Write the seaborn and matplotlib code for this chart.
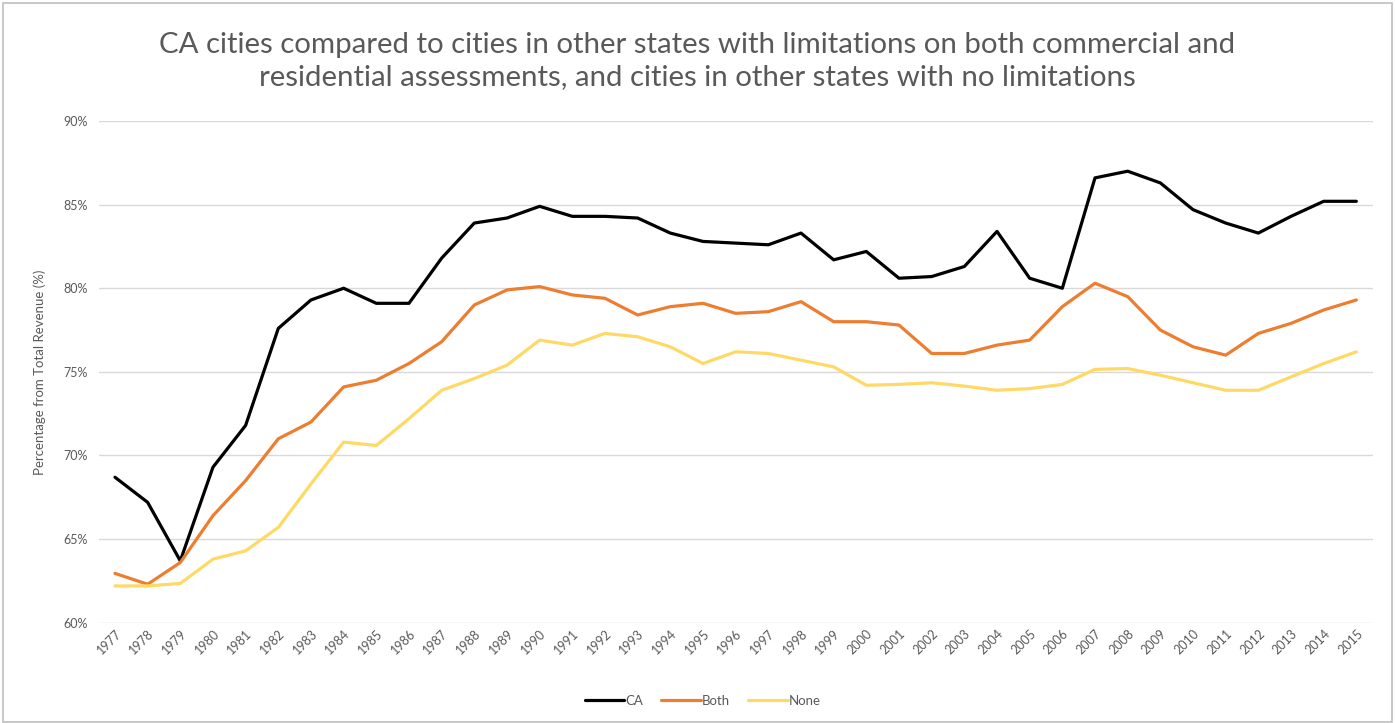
import numpy as np
import pandas as pd
import seaborn as sns
import matplotlib.pyplot as plt
from matplotlib.patches import Rectangle
from matplotlib.ticker import PercentFormatter

years = list(range(1977, 2016))

ca = [68.7, 67.2, 63.7, 69.3, 71.8, 77.6, 79.3, 80.0, 79.1, 79.1,
      81.8, 83.9, 84.2, 84.9, 84.3, 84.3, 84.2, 83.3, 82.8, 82.7,
      82.6, 83.3, 81.7, 82.2, 80.6, 80.7, 81.3, 83.4, 80.6, 80.0,
      86.6, 87.0, 86.3, 84.7, 83.9, 83.3, 84.3, 85.2, 85.2]
both = [62.95, 62.3, 63.6, 66.4, 68.5, 71.0, 72.0, 74.1, 74.5, 75.5,
        76.8, 79.0, 79.9, 80.1, 79.6, 79.4, 78.4, 78.9, 79.1, 78.5,
        78.6, 79.2, 78.0, 78.0, 77.8, 76.1, 76.1, 76.6, 76.9, 78.9,
        80.3, 79.5, 77.5, 76.5, 76.0, 77.3, 77.9, 78.7, 79.3]
none = [62.2, 62.2, 62.35, 63.8, 64.3, 65.7, 68.3, 70.8, 70.6, 72.2,
        73.9, 74.6, 75.4, 76.9, 76.6, 77.3, 77.1, 76.5, 75.5, 76.2,
        76.1, 75.7, 75.3, 74.2, 74.25, 74.35, 74.15, 73.9, 74.0, 74.25,
        75.15, 75.2, 74.8, 74.35, 73.9, 73.9, 74.7, 75.5, 76.2]

series = ["CA", "Both", "None"]
colors = {"CA": "#000000", "Both": "#ED7D31", "None": "#FFD966"}

df = pd.DataFrame({"year": [str(y) for y in years], "CA": ca, "Both": both, "None": none})
long_df = df.melt(id_vars="year", var_name="group", value_name="pct")

sns.set_theme(style="white")
plt.rcParams['font.family'] = ['Lato', 'DejaVu Sans']

fig = plt.figure(figsize=(13.95, 7.23), dpi=100)
ax = fig.add_axes([0.0707, 0.1387, 0.9133, 0.6939])

sns.lineplot(data=long_df, x="year", y="pct", hue="group", hue_order=series,
             palette=colors, linewidth=2.3, ax=ax, sort=False)

ax.set_xlim(-0.5, len(years) - 0.5)
ax.set_ylim(60, 90)
ax.set_yticks([60, 65, 70, 75, 80, 85, 90])
ax.yaxis.set_major_formatter(PercentFormatter(decimals=0))
ax.grid(axis="y", color="#D9D9D9", linewidth=1)
ax.set_axisbelow(True)
for s in ax.spines.values():
    s.set_visible(False)

ax.tick_params(axis="both", colors="#595959", labelsize=9, length=0)
ax.tick_params(axis="y", pad=8)
plt.setp(ax.get_xticklabels(), rotation=45, ha="right", rotation_mode="anchor")
ax.set_xlabel("")
ax.set_ylabel("Percentage from Total Revenue (%)", color="#595959", fontsize=9.5, labelpad=12)

ax.legend(loc="upper center", bbox_to_anchor=(0.474, -0.12), ncol=3, frameon=False,
          fontsize=9.5, handlelength=3.0, columnspacing=1.4, handletextpad=0.05,
          labelcolor="#595959")

fig.text(0.5, 0.916, "CA cities compared to cities in other states with limitations on both commercial and\n"
         "residential assessments, and cities in other states with no limitations",
         ha="center", va="center", fontsize=21.2, color="#595959", linespacing=1.3)

fig.patches.append(Rectangle((0.002, 0.002), 0.996, 0.994, transform=fig.transFigure,
                             fill=False, edgecolor="#BFBFBF", linewidth=1.2))

fig.savefig("out.png", dpi=100)
